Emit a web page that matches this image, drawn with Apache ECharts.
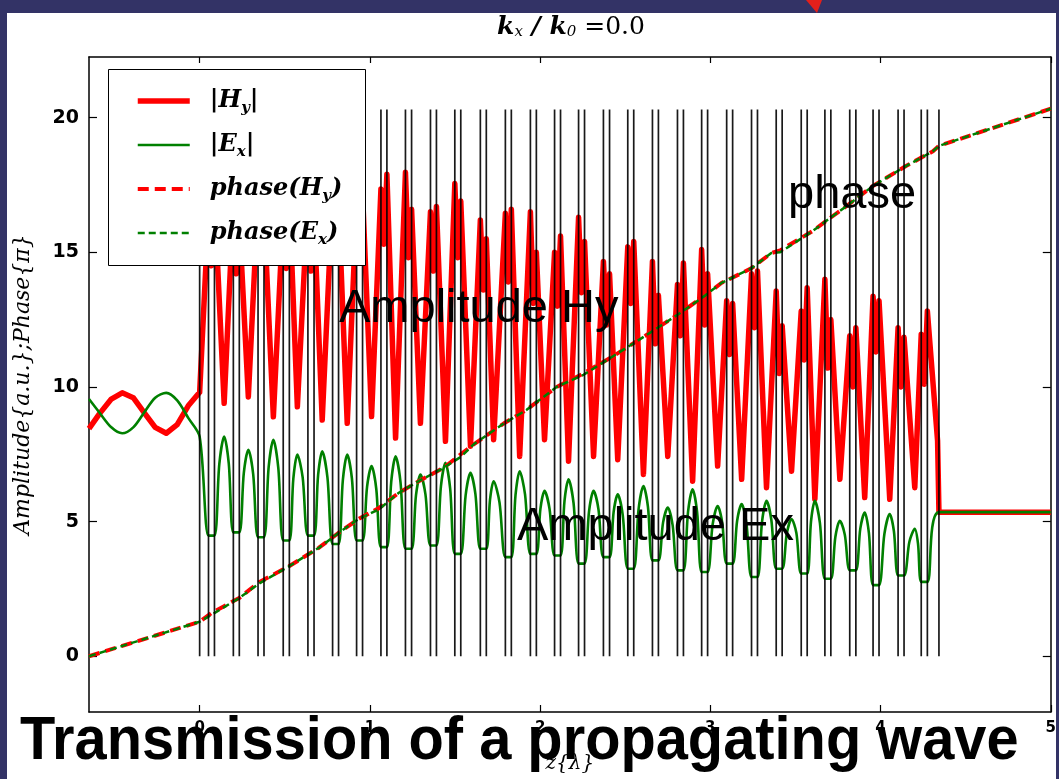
<!DOCTYPE html>
<html><head><meta charset="utf-8">
<script src="https://cdn.jsdelivr.net/npm/echarts@6/dist/echarts.min.js"></script>
<style>html,body{margin:0;padding:0;background:#333366;}#c{width:1059px;height:779px;}</style>
</head><body><div id="c"></div>
<script>
// ---- tick labels ----
const xTicks = [0, 1, 2, 3, 4, 5];
const yTicks = [0, 5, 10, 15, 20];

// ---- incident region (z < 0) ----
const incX  = [-0.65, -0.589, -0.519, -0.455, -0.390, -0.326, -0.261, -0.196, -0.132, -0.067, 0];
const hyInc = [8.45, 9.0, 9.55, 9.78, 9.6, 9.05, 8.5, 8.28, 8.6, 9.3, 9.8];
const exInc = [9.55, 9.05, 8.5, 8.28, 8.5, 9.05, 9.6, 9.78, 9.5, 8.85, 8.15];

// ---- layer pairs (two interfaces each) ----
const pairX1 = [0.052,0.198,0.343,0.491,0.636,0.781,0.922,1.065,1.209,1.356,1.499,1.649,1.796,1.943,2.085,2.226,2.372,2.515,2.660,2.807,2.949,3.096,3.242,3.387,3.534,3.673,3.819,3.956,4.103,4.239];
const pairX2 = [0.087,0.233,0.378,0.527,0.672,0.816,0.957,1.100,1.245,1.391,1.534,1.684,1.831,1.978,2.120,2.261,2.408,2.550,2.695,2.842,2.984,3.131,3.277,3.422,3.569,3.708,3.855,3.991,4.138,4.275];
const structStart = 0;
const structEnd = 4.343;
const layerTop = 20.3;

// |Hy| at the pair interfaces and between them
const hyPeak1 = [16.5,16.8,17.0,16.5,17.0,17.2,16.8,17.35,17.97,16.5,17.55,16.2,16.45,16.5,15.0,16.3,14.66,15.2,14.66,13.8,15.1,13.2,14.2,13.56,12.82,14.0,11.9,13.37,12.2,11.96];
const hyDip   = [14.5,14.2,14.6,14.4,14.3,14.8,14.6,15.3,14.8,14.3,14.8,13.6,13.9,13.1,13.0,13.5,12.3,13.1,11.6,11.9,12.3,11.2,12.2,10.5,11.0,10.7,10.0,11.3,10.0,10.1];
const hyPeak2 = [17.0,16.2,16.5,17.0,16.4,16.8,17.2,17.9,16.6,16.7,16.9,15.5,16.6,15.0,15.6,15.4,14.2,15.4,13.4,14.6,14.2,13.1,14.3,12.27,13.68,12.5,12.2,13.2,11.84,12.82];
// positions midway between pairs, |Hy| minima there
const midX = [0.144,0.286,0.433,0.574,0.720,0.867,1.010,1.151,1.297,1.444,1.591,1.727,1.880,2.026,2.167,2.314,2.456,2.607,2.750,2.896,3.043,3.184,3.330,3.477,3.614,3.761,3.907,4.054,4.201];
const hyTrough = [9.39,9.63,8.89,9.26,8.77,8.65,8.9,8.1,8.65,7.98,7.8,8.04,7.42,8.04,7.24,7.42,7.3,6.75,7.42,6.5,7.06,6.57,6.26,6.87,5.83,6.57,5.89,5.83,6.26];
// |Ex| minima at pairs, maxima midway, and the arch shoulders either side of each maximum
const exTrough = [4.48,4.6,4.42,4.3,4.48,4.17,4.3,4.05,3.99,4.11,3.8,3.99,3.68,3.8,3.74,3.44,3.68,3.25,3.56,3.19,3.13,3.44,2.94,3.25,3.07,2.88,3.19,2.64,3.0,2.76];
const exPeak = [8.16,7.67,8.04,7.49,7.61,7.49,7.06,7.42,6.75,7.18,6.81,6.5,6.87,6.14,6.57,6.14,6.01,6.32,5.52,6.2,5.58,5.65,5.77,5.09,5.77,5.03,5.34,5.28,4.73];
const exShoulderL = [7.13,6.81,7.03,6.60,6.73,6.56,6.29,6.48,5.98,6.32,5.97,5.80,5.98,5.48,5.78,5.38,5.36,5.46,4.97,5.36,4.89,5.03,4.98,4.57,5.01,4.43,4.74,4.54,4.25];
const exShoulderR = [7.16,6.76,6.99,6.65,6.65,6.60,6.22,6.46,6.01,6.23,6.02,5.71,6.01,5.47,5.69,5.45,5.24,5.55,4.87,5.34,4.98,4.89,5.06,4.58,4.96,4.51,4.58,4.64,4.18];

// exit and transmitted region
const hyTailX = [4.31, 4.335, 4.343, 5.0];
const hyTail  = [10.0, 8.0, 5.35, 5.35];
const exTailX = [4.343, 5.0];
const exTail  = [5.35, 5.35];

// ---- phase (units of pi) ----
const phaseX  = [-0.65,0,0.073,0.232,0.349,0.525,0.701,0.818,0.935,1.053,1.170,1.287,1.434,1.534,1.610,1.786,1.921,2.097,2.255,2.419,2.619,2.812,2.971,3.065,3.240,3.358,3.410,3.604,3.710,3.797,3.955,4.149,4.308,4.343,5.0];
const phaseHy = [0.0,1.28,1.62,2.16,2.75,3.34,4.03,4.59,5.1,5.5,6.07,6.5,7.0,7.5,7.87,8.64,9.15,10.0,10.5,11.1,11.9,12.7,13.4,13.86,14.4,14.97,15.07,15.8,16.3,16.7,17.46,18.2,18.75,18.95,20.33];
const phaseEx = [0.0,1.28,1.55,2.16,2.7,3.34,4.03,4.59,5.1,5.45,6.07,6.5,7.0,7.4,7.87,8.64,9.15,10.0,10.45,11.1,11.9,12.7,13.4,13.86,14.4,14.97,15.0,15.8,16.3,16.7,17.46,18.2,18.75,18.95,20.33];

// ---- build series data ----
const hyData = [], exData = [];
incX.forEach((x, i) => { hyData.push([x, hyInc[i]]); exData.push([x, exInc[i]]); });
for (let k = 0; k < pairX1.length; k++) {
  hyData.push([pairX1[k], hyPeak1[k]]);
  hyData.push([(pairX1[k] + pairX2[k]) / 2, hyDip[k]]);
  hyData.push([pairX2[k], hyPeak2[k]]);
  exData.push([pairX1[k], exTrough[k]]);
  exData.push([pairX2[k], exTrough[k]]);
  if (k < midX.length) {
    hyData.push([midX[k], hyTrough[k]]);
    exData.push([(pairX2[k] + midX[k]) / 2, exShoulderL[k]]);
    exData.push([midX[k], exPeak[k]]);
    exData.push([(midX[k] + pairX1[k + 1]) / 2, exShoulderR[k]]);
  }
}
hyTailX.forEach((x, i) => hyData.push([x, hyTail[i]]));
exTailX.forEach((x, i) => exData.push([x, exTail[i]]));
const pHyData = phaseX.map((x, i) => [x, phaseHy[i]]);
const pExData = phaseX.map((x, i) => [x, phaseEx[i]]);
const layerX = [structStart];
pairX1.forEach((x, k) => { layerX.push(x); layerX.push(pairX2[k]); });
layerX.push(structEnd);
const layerData = [];
layerX.forEach(x => { layerData.push([x, 0]); layerData.push([x, layerTop]); layerData.push([x, null]); });

const legendLabels = {
  'Hy': '{g|}{m|\u007cH}{s|y}{m|\u007c}',
  'Ex': '{g|}{m|\u007cE}{s|x}{m|\u007c}',
  'pHy': '{g|}{m|phase(H}{s|y}{m|)}',
  'pEx': '{g|}{m|phase(E}{s|x}{m|)}'
};

const chart = echarts.init(document.getElementById('c'));
const axisCol = '#000';
const xAxisBase = { type: 'value', min: -0.65, max: 5, gridIndex: 0, splitLine: { show: false },
  axisLine: { onZero: false, lineStyle: { color: axisCol, width: 1.5 } } };
const yAxisBase = { type: 'value', min: -2.07, max: 22.25, gridIndex: 0, splitLine: { show: false },
  axisLine: { onZero: false, lineStyle: { color: axisCol, width: 1.5 } } };

chart.setOption({
  animation: false,
  backgroundColor: '#333366',
  grid: { left: 89, right: 6, top: 57, bottom: 61, containLabel: false },
  xAxis: [
    Object.assign({}, xAxisBase, { position: 'bottom',
      axisTick: { inside: true, length: 7, customValues: xTicks, lineStyle: { color: axisCol, width: 1.2 } },
      axisLabel: { customValues: xTicks, color: '#000', fontFamily: 'DejaVu Sans', fontWeight: 'bold', fontSize: 15, margin: 9 },
      name: 'z{\u03bb}', nameLocation: 'middle', nameGap: 42,
      nameTextStyle: { fontFamily: 'DejaVu Serif', fontStyle: 'italic', fontSize: 20, color: '#000' } }),
    Object.assign({}, xAxisBase, { position: 'top',
      axisTick: { inside: true, length: 6, customValues: xTicks, lineStyle: { color: axisCol, width: 1.2 } },
      axisLabel: { show: false } })
  ],
  yAxis: [
    Object.assign({}, yAxisBase, { position: 'left',
      axisTick: { inside: true, length: 8, customValues: yTicks, lineStyle: { color: axisCol, width: 1.2 } },
      axisLabel: { customValues: yTicks, color: '#000', fontFamily: 'DejaVu Sans', fontWeight: 'bold', fontSize: 19, margin: 10 },
      name: 'Amplitude{a.u.};Phase{\u03c0}', nameLocation: 'middle', nameGap: 55, nameRotate: 90,
      nameTextStyle: { fontFamily: 'DejaVu Serif', fontStyle: 'italic', fontSize: 22, color: '#000' } }),
    Object.assign({}, yAxisBase, { position: 'right',
      axisTick: { inside: true, length: 8, customValues: yTicks, lineStyle: { color: axisCol, width: 1.2 } },
      axisLabel: { show: false } })
  ],
  legend: {
    data: ['Hy', 'Ex', 'pHy', 'pEx'], orient: 'vertical', left: 108, top: 69,
    itemWidth: 52, itemHeight: 14, itemGap: 14, padding: [17, 20, 17, 27], z: 4,
    backgroundColor: 'transparent', selectedMode: false,
    itemStyle: { opacity: 0 },
    lineStyle: { width: 'inherit' },
    formatter: name => legendLabels[name],
    textStyle: { lineHeight: 30, rich: {
      g: { width: 15 },
      m: { fontFamily: 'DejaVu Serif', fontStyle: 'italic', fontWeight: 'bold', fontSize: 24, color: '#000', verticalAlign: 'middle' },
      s: { fontFamily: 'DejaVu Serif', fontStyle: 'italic', fontWeight: 'bold', fontSize: 15, color: '#000', verticalAlign: 'bottom' }
    } }
  },
  graphic: { elements: [
    { type: 'rect', z: -1, silent: true, shape: { x: 7, y: 13, width: 1049, height: 766 }, style: { fill: '#ffffff' } },
    { type: 'polygon', z: 10, silent: true, shape: { points: [[806, 0], [822, 0], [817, 13]] }, style: { fill: '#e3201b' } },
    { type: 'rect', z: 3, silent: true, shape: { x: 108.5, y: 69.5, width: 257, height: 196 }, style: { fill: '#fff', stroke: '#000', lineWidth: 1 } },
    { type: 'text', z: 10, silent: true, x: 571, y: 27, style: { text: '{k|k}{s|x}{k| / k}{s|0}{n| =0.0}', align: 'center', verticalAlign: 'middle',
        rich: { k: { fontFamily: 'DejaVu Serif', fontStyle: 'italic', fontWeight: 'bold', fontSize: 25, fill: '#000', verticalAlign: 'middle' },
                s: { fontFamily: 'DejaVu Serif', fontStyle: 'italic', fontSize: 15, fill: '#000', verticalAlign: 'bottom' },
                n: { fontFamily: 'DejaVu Serif', fontSize: 25, fill: '#000', verticalAlign: 'middle' } } } },
    { type: 'text', z: 10, silent: true, x: 788, y: 194.7, style: { text: 'phase', font: '47px "Liberation Sans"', fill: '#000', align: 'left', verticalAlign: 'middle' } },
    { type: 'text', z: 10, silent: true, x: 339, y: 308.7, style: { text: 'Amplitude Hy', font: '47px "Liberation Sans"', fill: '#000', align: 'left', verticalAlign: 'middle' } },
    { type: 'text', z: 10, silent: true, x: 517, y: 526.7, style: { text: 'Amplitude Ex', font: '47px "Liberation Sans"', fill: '#000', align: 'left', verticalAlign: 'middle' } },
    { type: 'text', z: 10, silent: true, x: 20, y: 741.5, scaleX: 0.932, style: { text: 'Transmission of a propagating wave', font: 'bold 62px "Liberation Sans"', fill: '#000', align: 'left', verticalAlign: 'middle' } }
  ] },
  series: [
    { name: 'Hy', type: 'line', data: hyData, symbol: 'none', z: 2,
      lineStyle: { color: '#ff0000', width: 5.5, join: 'round' }, itemStyle: { color: '#ff0000' } },
    { name: 'Ex', type: 'line', data: exData, symbol: 'none', z: 2, smooth: 0.3,
      lineStyle: { color: '#008000', width: 2.6, join: 'round' }, itemStyle: { color: '#008000' } },
    { name: 'pHy', type: 'line', data: pHyData, symbol: 'none', z: 2,
      lineStyle: { color: '#ff0000', width: 4, type: [11, 6] }, itemStyle: { color: '#ff0000' } },
    { name: 'pEx', type: 'line', data: pExData, symbol: 'none', z: 2,
      lineStyle: { color: '#008000', width: 2.5, type: [7, 4] }, itemStyle: { color: '#008000' } },
    { name: 'layers', type: 'line', data: layerData, symbol: 'none', z: 2, connectNulls: false, silent: true,
      lineStyle: { color: '#000', width: 1.7, opacity: 0.9 } }
  ]
});
</script></body></html>
